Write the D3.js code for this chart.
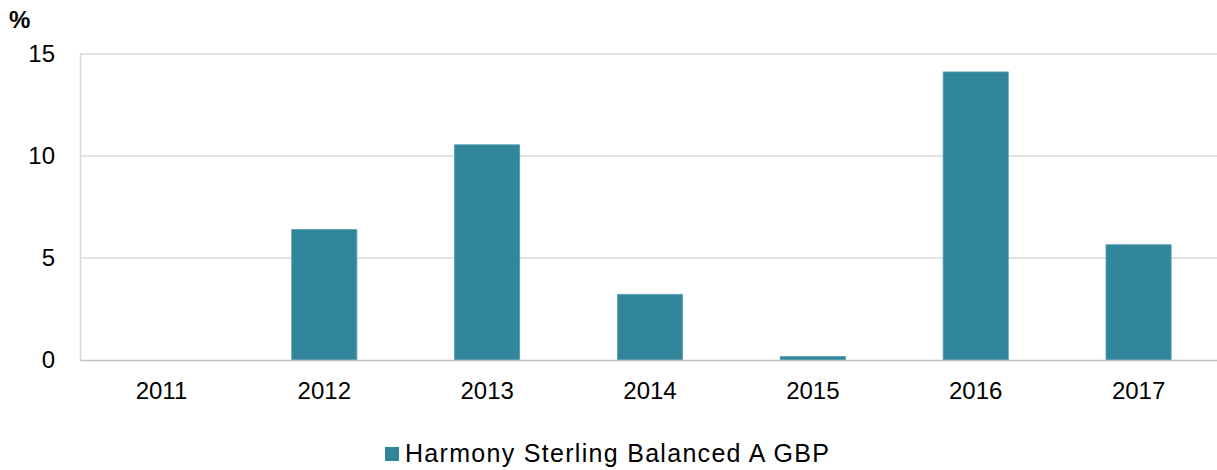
<!DOCTYPE html>
<html>
<head>
<meta charset="utf-8">
<script src="https://cdn.jsdelivr.net/npm/d3@7"></script>
<style>
body { margin: 0; background: #fff; }
svg text { font-family: "Liberation Sans", Arial, sans-serif; fill: #000; }
</style>
</head>
<body>
<div id="chart-area"></div>
<script>
var years = ["2011", "2012", "2013", "2014", "2015", "2016", "2017"];
var returns = [null, 6.4, 10.55, 3.22, 0.17, 14.12, 5.65];
var yTicks = [0, 5, 10, 15];
var seriesName = "Harmony Sterling Balanced A GBP";

var margin = { left: 80, right: -3, top: 54, bottom: 110 };
var width = 1217 - margin.left - margin.right,
	height = 470 - margin.top - margin.bottom;

var svg = d3.select("#chart-area")
	.append("svg")
	.attr("width", 1217)
	.attr("height", 470);

var g = svg.append("g")
	.attr("transform", "translate(" + margin.left + "," + margin.top + ")");

// SCALES
var x = d3.scaleBand()
	.domain(years)
	.range([0, width])
	.paddingInner(0.6)
	.paddingOuter(0.3);

var y = d3.scaleLinear()
	.domain([0, 15])
	.range([height, 0]);

// GRIDLINES
g.selectAll("line.grid")
	.data(yTicks.filter(function (d) { return d > 0; }))
	.enter()
	.append("line")
	.attr("class", "grid")
	.attr("x1", 0)
	.attr("x2", width)
	.attr("y1", function (d) { return y(d); })
	.attr("y2", function (d) { return y(d); })
	.attr("stroke", "#d9d9d9")
	.attr("stroke-width", 1.5);

// Y AXIS
var yAxis = g.append("g")
	.call(d3.axisLeft(y).tickValues(yTicks).tickSize(0).tickPadding(25));
yAxis.select(".domain").attr("stroke", "#d9d9d9").attr("stroke-width", 1.5);
yAxis.selectAll("text").attr("font-size", "24px");

// BARS
g.selectAll("rect.bar")
	.data(years.map(function (yr, i) { return { year: yr, value: returns[i] }; })
		.filter(function (d) { return d.value != null; }))
	.enter()
	.append("rect")
	.attr("class", "bar")
	.attr("x", function (d) { return x(d.year); })
	.attr("width", x.bandwidth())
	.attr("y", function (d) { return y(d.value); })
	.attr("height", function (d) { return height - y(d.value); })
	.attr("fill", "#31869b")
	.attr("stroke", "#5a9fb0")
	.attr("stroke-width", 0.8);

// X AXIS
var xAxis = g.append("g")
	.attr("transform", "translate(0," + height + ")")
	.call(d3.axisBottom(x).tickSize(0).tickPadding(22));
xAxis.select(".domain").attr("stroke", "#bfbfbf").attr("stroke-width", 1.5);
xAxis.selectAll("text").attr("font-size", "24px");

// UNIT LABEL
svg.append("text")
	.attr("x", 9)
	.attr("y", 28)
	.attr("font-size", "24px")
	.attr("font-weight", "bold")
	.text("%");

// LEGEND
var legend = svg.append("g")
	.attr("transform", "translate(385,447)");
legend.append("rect")
	.attr("width", 14)
	.attr("height", 14)
	.attr("fill", "#31869b");
legend.append("text")
	.attr("x", 20)
	.attr("y", 15)
	.attr("font-size", "25px")
	.attr("letter-spacing", "1.3px")
	.text(seriesName);
</script>
</body>
</html>
